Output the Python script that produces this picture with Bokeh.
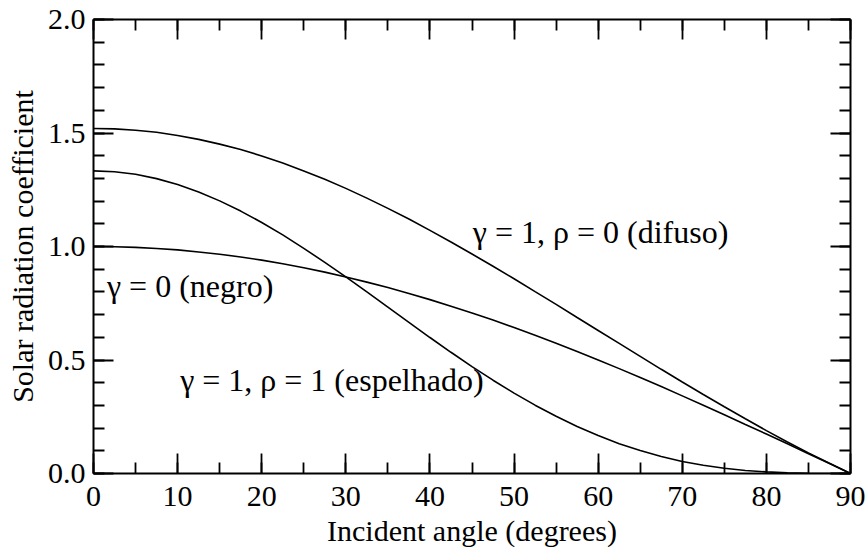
from bokeh.plotting import figure
from bokeh.models import Range1d, LinearAxis, SingleIntervalTicker, PrintfTickFormatter, Label
from bokeh.embed import file_html
from bokeh.resources import INLINE

# Data
angle = [0, 2.5, 5, 7.5, 10, 12.5, 15, 17.5, 20, 22.5, 25, 27.5, 30, 32.5, 35, 37.5, 40, 42.5, 45,
         47.5, 50, 52.5, 55, 57.5, 60, 62.5, 65, 67.5, 70, 72.5, 75, 77.5, 80, 82.5, 85, 87.5, 90]
negro = [1.000, 0.999, 0.996, 0.991, 0.985, 0.976, 0.966, 0.954, 0.940, 0.924, 0.906, 0.887,
         0.866, 0.843, 0.819, 0.793, 0.766, 0.737, 0.707, 0.676, 0.643, 0.609, 0.574, 0.537,
         0.500, 0.462, 0.423, 0.383, 0.342, 0.301, 0.259, 0.216, 0.174, 0.131, 0.087, 0.044, 0.000]
difuso = [1.520, 1.518, 1.512, 1.503, 1.489, 1.472, 1.451, 1.427, 1.399, 1.368, 1.333, 1.296,
          1.256, 1.213, 1.168, 1.121, 1.071, 1.020, 0.967, 0.913, 0.858, 0.801, 0.745, 0.687,
          0.630, 0.573, 0.516, 0.459, 0.403, 0.348, 0.294, 0.241, 0.189, 0.139, 0.091, 0.045, 0.000]
espelhado = [1.333, 1.329, 1.318, 1.299, 1.273, 1.240, 1.201, 1.156, 1.106, 1.051, 0.992, 0.930,
             0.866, 0.800, 0.733, 0.666, 0.599, 0.534, 0.471, 0.411, 0.354, 0.301, 0.252, 0.207,
             0.167, 0.131, 0.101, 0.075, 0.053, 0.036, 0.023, 0.013, 0.007, 0.003, 0.001, 0.000, 0.000]
curve_labels = ["γ = 1, ρ = 0 (difuso)", "γ = 0 (negro)", "γ = 1, ρ = 1 (espelhado)"]
x_title = "Incident angle (degrees)"
y_title = "Solar radiation coefficient"

FONT = "Liberation Serif"
FS = "30px"
FS_LABEL = "32px"

p = figure(frame_width=757, frame_height=454, output_backend="svg", toolbar_location=None,
           x_range=Range1d(0, 90), y_range=Range1d(0, 2),
           min_border_left=93, min_border_right=17, min_border_top=19, min_border_bottom=74,
           x_axis_location=None, y_axis_location=None)
p.outline_line_color = None
p.grid.visible = False
p.background_fill_color = "white"
p.border_fill_color = "white"

def style_axis(ax, labels=True):
    ax.axis_line_width = 2
    ax.axis_line_color = "black"
    ax.major_tick_in = 20
    ax.major_tick_out = 0
    ax.minor_tick_in = 11
    ax.minor_tick_out = 0
    ax.major_tick_line_width = 1.8
    ax.minor_tick_line_width = 1.8
    ax.major_tick_line_color = "black"
    ax.minor_tick_line_color = "black"
    ax.major_label_text_font = FONT
    ax.major_label_text_font_size = FS
    ax.major_label_text_color = "black" if labels else None
    ax.axis_label_text_font = FONT
    ax.axis_label_text_font_size = FS
    ax.axis_label_text_font_style = "normal"
    ax.axis_label_text_color = "black"

xb = LinearAxis(ticker=SingleIntervalTicker(interval=10, num_minor_ticks=2), axis_label=x_title)
style_axis(xb)
xb.major_label_standoff = 13
xb.axis_label_standoff = 5
p.add_layout(xb, "below")

xt = LinearAxis(ticker=SingleIntervalTicker(interval=10, num_minor_ticks=2))
style_axis(xt, labels=False)
xt.major_label_text_font_size = "0px"
xt.major_label_standoff = 0
p.add_layout(xt, "above")

yl = LinearAxis(ticker=SingleIntervalTicker(interval=0.5, num_minor_ticks=5),
                formatter=PrintfTickFormatter(format="%.1f"), axis_label=y_title)
style_axis(yl)
yl.major_label_standoff = 8
yl.axis_label_standoff = 6
p.add_layout(yl, "left")

yr = LinearAxis(ticker=SingleIntervalTicker(interval=0.5, num_minor_ticks=5))
style_axis(yr, labels=False)
yr.major_label_text_font_size = "0px"
yr.major_label_standoff = 0
p.add_layout(yr, "right")

for ys in (difuso, negro, espelhado):
    p.line(angle, ys, line_color="black", line_width=1.6)

label_pos = [(45.1, 1.066), (1.6, 0.826), (10.3, 0.412)]
for txt, (lx, ly) in zip(curve_labels, label_pos):
    p.add_layout(Label(x=lx, y=ly, text=txt, text_font=FONT, text_font_size=FS_LABEL,
                       text_color="black", text_baseline="middle", text_align="left"))

open("out.html", "w").write(file_html(p, INLINE))
